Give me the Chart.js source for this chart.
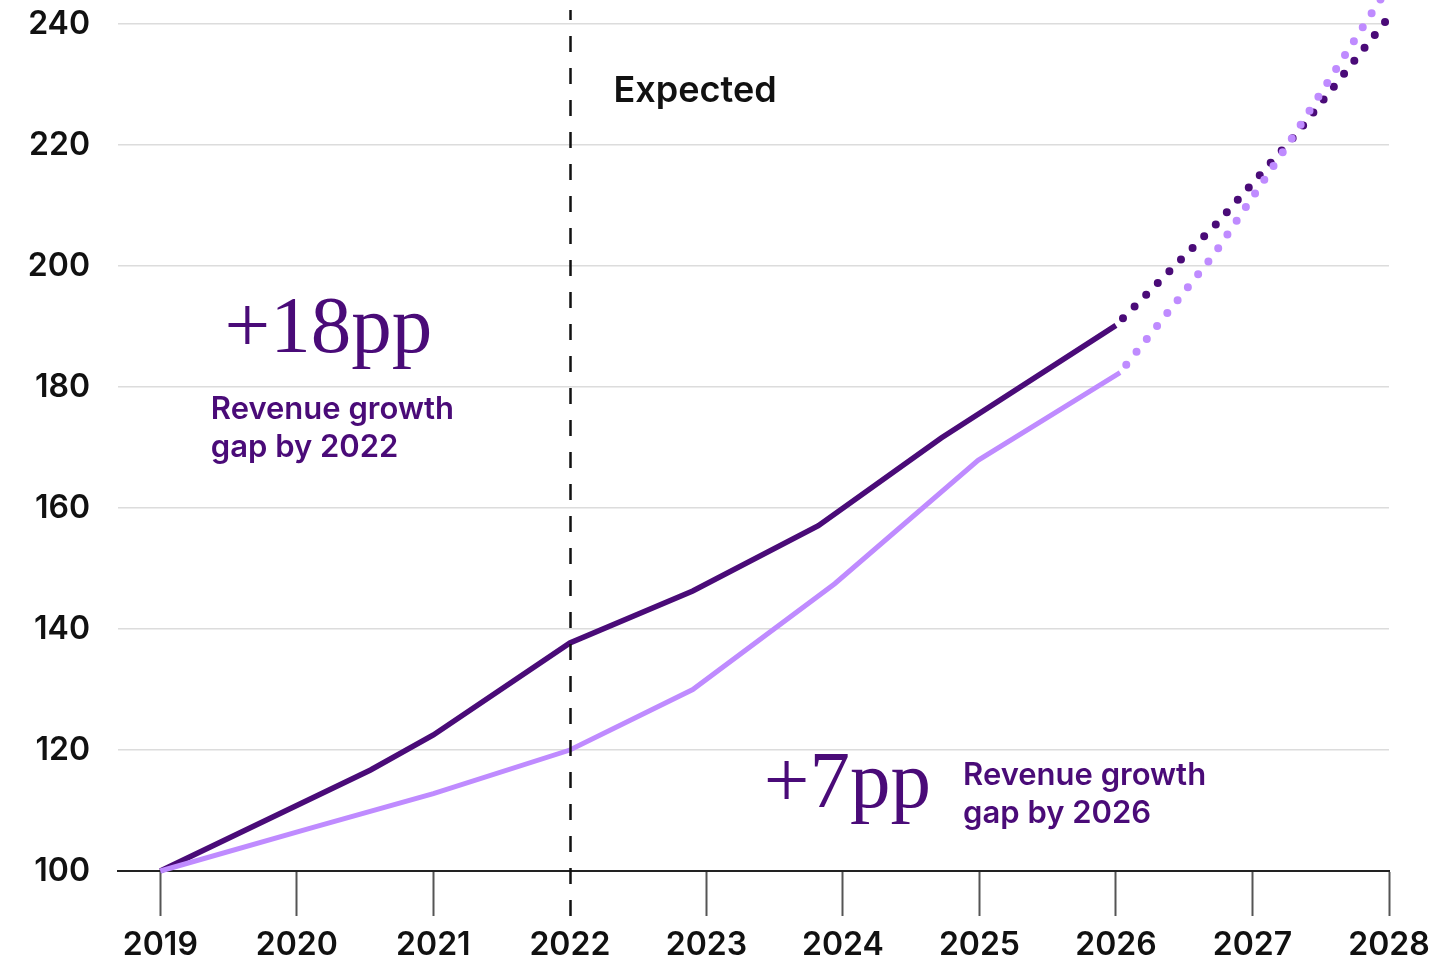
<!DOCTYPE html>
<html>
<head>
<meta charset="utf-8">
<script src="https://cdn.jsdelivr.net/npm/chart.js@4/dist/chart.umd.min.js"></script>
<style>
  html, body { margin: 0; padding: 0; background: #fff; }
  #wrap { width: 1451px; height: 961px; }
</style>
</head>
<body>
<div id="wrap"><canvas id="c" width="1451" height="961"></canvas></div>
<script>
// Revenue index (2019 = 100), actual to 2022, expected after; dotted past 2026.

const years = [2019, 2020, 2021, 2022, 2023, 2024, 2025, 2026, 2027, 2028];
const yTicks = [100, 120, 140, 160, 180, 200, 220, 240];

const darkX = [2019, 2020.54, 2021, 2022, 2022.9, 2023.82, 2024.72, 2026, 2026.74, 2027.32, 2028];
const darkY = [100, 116.7, 122.5, 137.7, 146.3, 157.1, 171.6, 190.2, 207.1, 221.8, 241.2];

const lightX = [2019, 2020.12, 2021, 2022, 2022.9, 2023.94, 2024.99, 2026.03, 2026.72, 2027.26, 2028];
const lightY = [100, 107.2, 112.8, 120.0, 130.0, 147.5, 167.9, 182.4, 202.0, 220.1, 246.3];

const forecastFrom = 2026;   // dotted from here on
const expectedYear = 2022;   // dashed divider

const DARK = '#4a0b78';
const LIGHT = '#bf8bff';
const SANS = 'Inter, "Open Sans", sans-serif';
const SERIF = '"Liberation Serif", "DejaVu Serif", serif';

// annotation anchors in data units (x = year, y = index value at baseline)
const notes = [
  { text: 'Expected', x: 2022.32, y: 227.2, font: '600 36px ' + SANS, color: '#111' },
  { text: '+18pp', x: 2019.47, y: 185.8, font: '81px ' + SERIF, color: DARK },
  { text: 'Revenue growth', x: 2019.37, y: 174.7, font: '600 31px ' + SANS, color: DARK },
  { text: 'gap by 2022', x: 2019.37, y: 168.4, font: '600 31px ' + SANS, color: DARK },
  { text: '+7pp', x: 2023.42, y: 110.6, font: '81px ' + SERIF, color: DARK },
  { text: 'Revenue growth', x: 2024.88, y: 114.2, font: '600 31px ' + SANS, color: DARK },
  { text: 'gap by 2026', x: 2024.88, y: 107.9, font: '600 31px ' + SANS, color: DARK },
];

function series(xs, ys) { return xs.map((x, i) => ({ x, y: ys[i] })); }
function isForecast(c) { return c.p0.parsed.x >= forecastFrom - 0.05; }

function lineSet(label, xs, ys, color, width) {
  return {
    label, data: series(xs, ys),
    borderColor: color, borderWidth: width,
    pointRadius: 0, tension: 0, clip: false,
    segment: {
      borderDash: c => isForecast(c) ? [0, 16.5] : undefined,
      borderDashOffset: c => isForecast(c) ? 6.5 : 0,
      borderWidth: c => isForecast(c) ? 8 : width,
      borderCapStyle: c => isForecast(c) ? 'round' : 'butt',
    },
  };
}

const annotate = {
  id: 'annotate',
  afterDatasetsDraw(chart) {
    const { ctx, chartArea, scales } = chart;
    const x = scales.x, y = scales.y;
    ctx.save();
    // dashed "expected" divider
    const dx = Math.round(x.getPixelForValue(expectedYear)) + 0.5;
    ctx.strokeStyle = '#111';
    ctx.lineWidth = 2.5;
    ctx.setLineDash([16, 16]);
    ctx.lineDashOffset = 6;
    ctx.beginPath();
    ctx.moveTo(dx, chartArea.top + 10);
    ctx.lineTo(dx, chartArea.bottom + 46);
    ctx.stroke();
    ctx.setLineDash([]);
    // labels
    ctx.textBaseline = 'alphabetic';
    ctx.textAlign = 'left';
    notes.forEach(n => {
      ctx.font = n.font;
      ctx.fillStyle = n.color;
      ctx.fillText(n.text, x.getPixelForValue(n.x), y.getPixelForValue(n.y));
    });
    ctx.restore();
  },
};

new Chart(document.getElementById('c'), {
  type: 'line',
  data: {
    datasets: [
      lineSet('Light', lightX, lightY, LIGHT, 5),
      lineSet('Dark', darkX, darkY, DARK, 5.5),
    ],
  },
  options: {
    responsive: false,
    animation: false,
    layout: { padding: { left: 0, right: 62, top: 0, bottom: 0 } },
    plugins: { legend: { display: false }, tooltip: { enabled: false } },
    scales: {
      x: {
        type: 'linear', min: 2018.69, max: 2028,
        afterBuildTicks: s => { s.ticks = years.map(v => ({ value: v })); },
        afterFit: s => { s.height = 90; s.paddingLeft = 0; s.paddingRight = 0; },
        border: { display: true, color: '#222', width: 2 },
        grid: {
          drawOnChartArea: false, drawTicks: true, tickLength: 45, tickWidth: 2,
          tickColor: c => c.tick && c.tick.value === expectedYear ? 'rgba(0,0,0,0)' : '#555',
        },
        ticks: {
          padding: 10, color: '#111', autoSkip: false, maxRotation: 0,
          font: { family: SANS, size: 32, weight: '600' },
          callback: v => String(v),
        },
      },
      y: {
        type: 'linear', min: 100, max: 244,
        afterBuildTicks: s => { s.ticks = yTicks.map(v => ({ value: v })); },
        afterFit: s => { s.width = 118; s.paddingTop = 0; s.paddingBottom = 0; },
        border: { display: false },
        grid: {
          drawTicks: false, lineWidth: 1.5,
          color: c => c.tick && c.tick.value === 100 ? 'rgba(0,0,0,0)' : '#dcdcdc',
        },
        ticks: {
          padding: 28, color: '#111',
          font: { family: SANS, size: 32, weight: '600' },
        },
      },
    },
  },
  plugins: [annotate],
});
</script>
</body>
</html>
